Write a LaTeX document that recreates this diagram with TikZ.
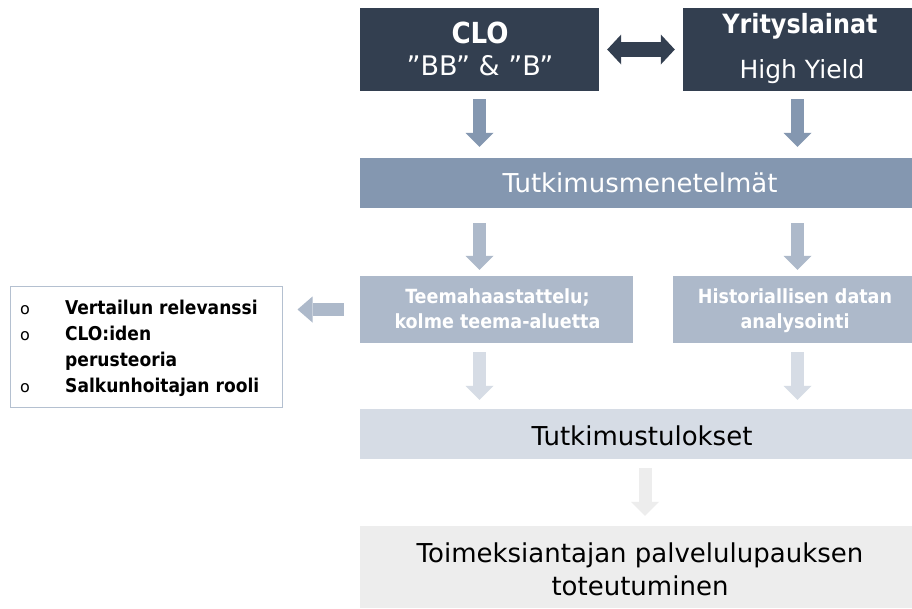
\documentclass[tikz,border=0pt]{standalone}
\usepackage{fontspec}
\setmainfont{DejaVu Sans}
\newfontfamily\condf{DejaVu Sans Condensed}
\usetikzlibrary{arrows.meta}
\definecolor{cdark}{HTML}{333F50}
\definecolor{cmid}{HTML}{8497B0}
\definecolor{clight}{HTML}{ADB9CA}
\definecolor{clighter}{HTML}{D6DCE5}
\definecolor{clightest}{HTML}{EDEDED}
\definecolor{cborder}{HTML}{B4C0D0}
\newcommand\fs[1]{\fontsize{#1}{#1}\selectfont}
\newcommand\bfs[1]{\condf\bfseries\fontsize{#1}{#1}\selectfont}
\begin{document}
\begin{tikzpicture}[x=1pt,y=-1pt,
  box/.style={rectangle, inner sep=0pt},
  lbl/.style={anchor=base, inner sep=0pt},
  lbll/.style={anchor=base west, inner sep=0pt},
  vbarrow/.style={line width=13pt, -{Triangle[width=28pt,length=14pt,line width=0pt]}},
  dbarrow/.style={draw=cdark, line width=15pt, {Triangle[width=30pt,length=14pt,line width=0pt]}-{Triangle[width=30pt,length=14pt,line width=0pt]}},
  hbarrow/.style={draw=clight, line width=13pt, -{Triangle[width=26pt,length=15pt,line width=0pt]}}
]
\useasboundingbox (0,0) rectangle (912,608);
\fill[white] (0,0) rectangle (912,608);

% boxes
\node[box, fill=cdark, minimum width=239pt, minimum height=83pt] (clo) at (479.5,49.5) {};
\node[box, fill=cdark, minimum width=229pt, minimum height=83pt] (yr) at (797.5,49.5) {};
\node[box, fill=cmid, minimum width=552pt, minimum height=50pt] (tm) at (636,183) {};
\node[box, fill=clight, minimum width=273pt, minimum height=67pt] (teema) at (496.5,309.5) {};
\node[box, fill=clight, minimum width=239pt, minimum height=67pt] (hist) at (792.5,309.5) {};
\node[box, fill=clighter, minimum width=552pt, minimum height=50pt] (tt) at (636,434) {};
\node[box, fill=clightest, minimum width=552pt, minimum height=82pt] (toim) at (636,567) {};
\node[box, draw=cborder, line width=1pt, fill=white, minimum width=272pt, minimum height=121pt] (list) at (146,346.5) {};

% texts
\node[lbl, text=white, font=\bfs{29}] (cloA) at (480,43) {CLO};
\node[lbl, text=white, font=\fs{27}] (cloB) at (480,75) {”BB” \& ”B”};
\node[lbl, text=white, font=\bfs{26.5}] (yrA) at (800,33) {Yrityslainat};
\node[lbl, text=white, font=\fs{25}] (yrB) at (802,78) {High Yield};
\node[lbl, text=white, font=\fs{26}] (tmA) at (640,192) {Tutkimusmenetelmät};
\node[lbl, text=white, font=\bfs{19.5}] (teA) at (497.5,303) {Teemahaastattelu;};
\node[lbl, text=white, font=\bfs{19.5}] (teB) at (497.5,328) {kolme teema-aluetta};
\node[lbl, text=white, font=\bfs{19.5}] (hiA) at (795,303) {Historiallisen datan};
\node[lbl, text=white, font=\bfs{19.5}] (hiB) at (795,328) {analysointi};
\node[lbl, text=black, font=\fs{26}] (ttA) at (642,445) {Tutkimustulokset};
\node[lbl, text=black, font=\fs{26}] (toA) at (640,562) {Toimeksiantajan palvelulupauksen};
\node[lbl, text=black, font=\fs{26}] (toB) at (640,595) {toteutuminen};

\node[lbl, font=\fs{16}] (b1) at (25,314) {o};
\node[lbl, font=\fs{16}] (b2) at (25,340) {o};
\node[lbl, font=\fs{16}] (b3) at (25,392) {o};
\node[lbll, font=\bfs{19}] (l1) at (65,314) {Vertailun relevanssi};
\node[lbll, font=\bfs{19}] (l2) at (65,340) {CLO:iden};
\node[lbll, font=\bfs{19}] (l3) at (65,366) {perusteoria};
\node[lbll, font=\bfs{19}] (l4) at (65,392) {Salkunhoitajan rooli};

% arrows
\draw[dbarrow, shorten <=8pt, shorten >=8pt] (clo.east) -- (yr.west);
\draw[vbarrow, draw=cmid, shorten <=8pt, shorten >=11pt] (clo.south) -- (clo.south |- tm.north);
\draw[vbarrow, draw=cmid, shorten <=8pt, shorten >=11pt] (yr.south) -- (yr.south |- tm.north);
\draw[vbarrow, draw=clight, shorten <=15pt, shorten >=6pt] (clo.south |- tm.south) -- (clo.south |- teema.north);
\draw[vbarrow, draw=clight, shorten <=15pt, shorten >=6pt] (yr.south |- tm.south) -- (yr.south |- hist.north);
\draw[vbarrow, draw=clighter, shorten <=9pt, shorten >=9pt] (clo.south |- teema.south) -- (clo.south |- tt.north);
\draw[vbarrow, draw=clighter, shorten <=9pt, shorten >=9pt] (yr.south |- hist.south) -- (yr.south |- tt.north);
\draw[vbarrow, draw=clightest, shorten <=9pt, shorten >=10pt] ([xshift=9pt]tt.south) -- ([xshift=9pt]toim.north);
\draw[hbarrow, shorten <=16pt, shorten >=15pt] (teema.west) -- (teema.west -| list.east);
\end{tikzpicture}
\end{document}
